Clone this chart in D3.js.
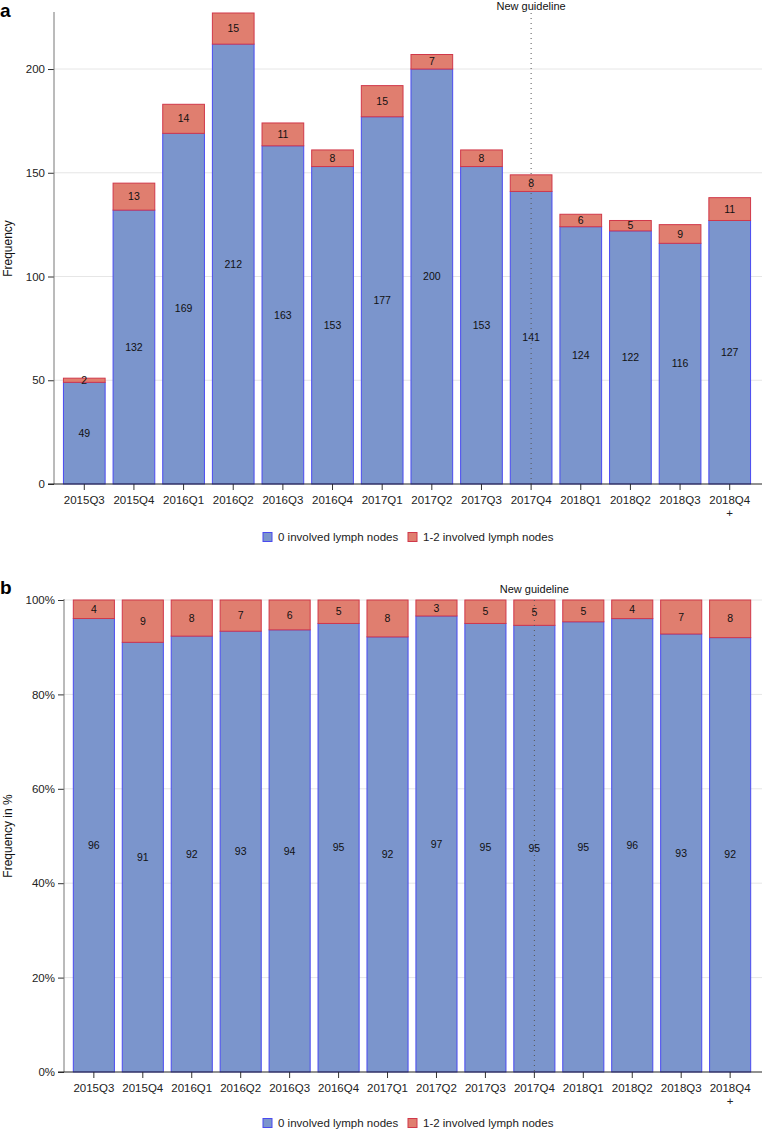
<!DOCTYPE html>
<html><head><meta charset="utf-8">
<script src="https://cdn.jsdelivr.net/npm/d3@7"></script>
<style>body{margin:0;background:#fff}svg{display:block;font-family:"Liberation Sans",Arial,sans-serif}</style>
</head><body><svg id="c" width="762" height="1131"></svg>
<script>
const categories = ["2015Q3","2015Q4","2016Q1","2016Q2","2016Q3","2016Q4","2017Q1","2017Q2","2017Q3","2017Q4","2018Q1","2018Q2","2018Q3","2018Q4\n+"];
const zeroNodes = [49,132,169,212,163,153,177,200,153,141,124,122,116,127];
const oneTwoNodes = [2,13,14,15,11,8,15,7,8,8,6,5,9,11];
const pctZero = [96,91,92,93,94,95,92,97,95,95,95,96,93,92];
const pctOneTwo = [4,9,8,7,6,5,8,3,5,5,5,4,7,8];
const countTicks = [0,50,100,150,200];
const pctTicks = [0,0.2,0.4,0.6,0.8,1];
const seriesNames = ["0 involved lymph nodes","1-2 involved lymph nodes"];
const guidelineCat = "2017Q4";

const BLUE="#7b95cc", BLUE_S="#4a4af0", RED="#e07e6f", RED_S="#d0384a";
const svg = d3.select("#c");

function panel(opt){
  const g = svg.append("g");
  const x = d3.scaleBand().domain(categories).range([opt.x0, 760]).paddingInner(0.14).paddingOuter(0.18);
  const y = d3.scaleLinear().domain(opt.domain).range([opt.yb, opt.yt]);
  g.append("g").selectAll("line").data(opt.ticks.filter(t=>t>0)).join("line")
    .attr("x1",opt.x0).attr("x2",762).attr("y1",d=>y(d)).attr("y2",d=>y(d))
    .attr("stroke","#e6e6e6").attr("stroke-width",1);
  const data = categories.map((c,i)=>{
    const tot = zeroNodes[i]+oneTwoNodes[i];
    return opt.pct ? {c, a: zeroNodes[i]/tot, b: oneTwoNodes[i]/tot, la: pctZero[i], lb: pctOneTwo[i]}
                   : {c, a: zeroNodes[i], b: oneTwoNodes[i], la: zeroNodes[i], lb: oneTwoNodes[i]};
  });
  const bw = x.bandwidth();
  g.append("g").selectAll("rect").data(data).join("rect")
    .attr("x",d=>x(d.c)+0.5).attr("width",bw-1)
    .attr("y",d=>y(d.a)).attr("height",d=>y(0)-y(d.a))
    .attr("fill",BLUE).attr("stroke",BLUE_S).attr("stroke-width",1);
  g.append("g").selectAll("rect").data(data).join("rect")
    .attr("x",d=>x(d.c)+0.5).attr("width",bw-1)
    .attr("y",d=>y(d.a+d.b)).attr("height",d=>y(d.a)-y(d.a+d.b))
    .attr("fill",RED).attr("stroke",RED_S).attr("stroke-width",1);
  const lab = g.append("g").attr("font-size",10.5).attr("fill","#111").attr("text-anchor","middle");
  lab.selectAll(".la").data(data).join("text")
    .attr("x",d=>x(d.c)+bw/2).attr("y",d=>(y(0)+y(d.a))/2).attr("dy","0.35em").text(d=>d.la);
  lab.selectAll(".lb").data(data).join("text")
    .attr("x",d=>x(d.c)+bw/2).attr("y",d=>(y(d.a)+y(d.a+d.b))/2).attr("dy","0.35em").text(d=>d.lb);
  const gx = x(guidelineCat)+bw/2;
  g.append("line").attr("x1",gx).attr("x2",gx).attr("y1",opt.yt).attr("y2",opt.yb)
    .attr("stroke","#555").attr("stroke-width",1).attr("stroke-dasharray","1,4");
  g.append("text").attr("x",gx).attr("y",opt.guideY).attr("text-anchor","middle")
    .attr("font-size",11).attr("fill","#111").text("New guideline");
  const ya = g.append("g").attr("transform",`translate(${opt.x0},0)`)
    .call(d3.axisLeft(y).tickValues(opt.ticks).tickSize(6).tickSizeOuter(0).tickFormat(opt.fmt));
  ya.select(".domain").remove();
  ya.append("line").attr("x1",0).attr("x2",0).attr("y1",opt.yt-1).attr("y2",opt.yb).attr("stroke","#777");
  ya.selectAll(".tick line").attr("stroke","#333");
  ya.selectAll("text").attr("font-size",11.5).attr("fill","#222").attr("font-family","Liberation Sans, Arial, sans-serif");
  const xa = g.append("g").attr("transform",`translate(0,${opt.yb})`)
    .call(d3.axisBottom(x).tickSize(6).tickSizeOuter(0));
  xa.select(".domain").remove();
  xa.append("line").attr("x1",opt.x0-6).attr("x2",762).attr("stroke","#222");
  xa.selectAll(".tick line").attr("stroke","#333");
  xa.selectAll(".tick text").each(function(d){
    const t = d3.select(this); const parts = d.split("\n"); t.text(null);
    parts.forEach((p,i)=>t.append("tspan").attr("x",0).attr("dy",i?"1.15em":"0.71em").text(p));
  }).attr("y",12).attr("font-size",11.5).attr("fill","#222").attr("font-family","Liberation Sans, Arial, sans-serif");
  g.append("text").attr("transform",`translate(12,${(opt.yt+opt.yb)/2}) rotate(-90)`)
    .attr("text-anchor","middle").attr("font-size",12).attr("fill","#111").text(opt.ytitle);
  g.append("text").attr("x",0).attr("y",opt.letterY).attr("font-size",19).attr("font-weight","bold").text(opt.letter);
  const lg = g.append("g").attr("font-size",11.5).attr("fill","#222");
  const items = [{n:seriesNames[0],f:BLUE,s:BLUE_S,x:263},{n:seriesNames[1],f:RED,s:RED_S,x:408}];
  items.forEach(it=>{
    lg.append("rect").attr("x",it.x).attr("y",opt.legY-4.5).attr("width",9).attr("height",9).attr("fill",it.f).attr("stroke",it.s);
    lg.append("text").attr("x",it.x+15).attr("y",opt.legY).attr("dy","0.35em").text(it.n);
  });
}

panel({x0:54, yb:484, yt:13, domain:[0,227], ticks:countTicks, fmt:d3.format("d"),
  ytitle:"Frequency", letter:"a", letterY:17, legY:537, pct:false, guideY:10});
panel({x0:64, yb:1072, yt:600, domain:[0,1], ticks:pctTicks, fmt:d=>Math.round(d*100)+"%",
  ytitle:"Frequency in %", letter:"b", letterY:594, legY:1123, pct:true, guideY:593});
</script></body></html>
